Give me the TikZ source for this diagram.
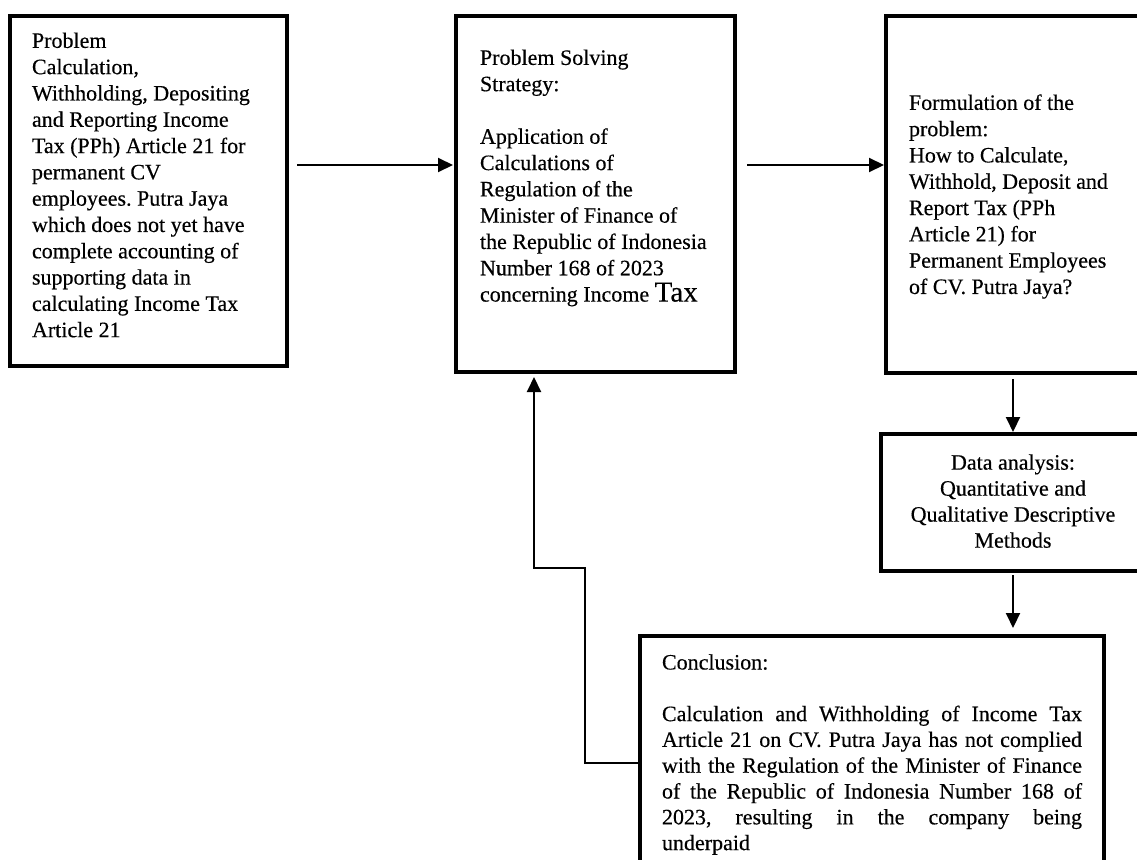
\documentclass[tikz,border=0pt]{standalone}
\usepackage{fontspec}
\setmainfont{Liberation Serif}[FakeBold=0.35]
\usetikzlibrary{arrows.meta}
\frenchspacing
\begin{document}
\begin{tikzpicture}[x=1pt,y=-1pt,
  box/.style={draw, line width=4.5pt, inner sep=0pt, outer sep=0pt, anchor=north west,
    font=\fontsize{22}{26.3}\selectfont},
  arr/.style={line width=2pt, -{Triangle[length=15pt,width=14pt]}},
  ]
\useasboundingbox (0,0) rectangle (1137,859);
\clip (0,0) rectangle (1137,859);
\fill[white] (0,0) rectangle (1137,859);

% Box 1: Problem
\node[box, inner xsep=22pt, inner ysep=13.45pt] (b1) at (10,16)
 {\parbox[c][323.1pt][t]{233pt}{\raggedright\frenchspacing\strut Problem\\
 Calculation,\\
 Withholding, Depositing\\
 and Reporting Income\\
 Tax (PPh) Article 21 for\\
 permanent CV\\
 employees. Putra Jaya\\
 which does not yet have\\
 complete accounting of\\
 supporting data in\\
 calculating Income Tax\\
 Article 21}};

% Box 2: Strategy
\node[box, inner xsep=24pt, inner ysep=30.45pt] (b2) at (456,16)
 {\parbox[c][295.1pt][t]{231pt}{\raggedright\frenchspacing\strut Problem Solving\\
 Strategy:\\
 \mbox{}\\
 Application of\\
 Calculations of\\
 Regulation of the\\
 Minister of Finance of\\
 the Republic of Indonesia\\
 Number 168 of 2023\\
 concerning Income {\fontsize{29}{28}\selectfont Tax}}};

% Box 3: Formulation
\node[box, inner xsep=23pt, inner ysep=75.45pt] (b3) at (886,16)
 {\parbox[c][206.1pt][t]{213pt}{\raggedright\frenchspacing\strut Formulation of the\\
 problem:\\
 How to Calculate,\\
 Withhold, Deposit and\\
 Report Tax (PPh\\
 Article 21) for\\
 Permanent Employees\\
 of CV. Putra Jaya?}};

% Box 4: Data analysis
\node[box, inner xsep=20pt, inner ysep=17.45pt, font=\fontsize{22}{26}\selectfont] (b4) at (881,434)
 {\parbox[c][102.1pt][t]{224pt}{\centering\strut Data analysis:\\
 Quantitative and\\
 Qualitative Descriptive\\
 Methods}};

% Box 5: Conclusion
\node[box, inner xsep=22pt, inner ysep=15.45pt, font=\fontsize{22}{25.8}\selectfont] (b5) at (640,636)
 {\parbox[c][233pt][t]{420pt}{\frenchspacing\strut Conclusion:\\
 \mbox{}\\
 \makebox[\linewidth][s]{Calculation and Withholding of Income Tax}\\
 \makebox[\linewidth][s]{Article 21 on CV. Putra Jaya has not complied}\\
 \makebox[\linewidth][s]{with the Regulation of the Minister of Finance}\\
 \makebox[\linewidth][s]{of the Republic of Indonesia Number 168 of}\\
 \makebox[\linewidth][s]{2023, resulting in the company being}\\
 underpaid}};

% helper coordinates
\coordinate (ya) at (0,165);
\coordinate (xa) at (1013,0);
\coordinate (fa) at (585,763);
\coordinate (fb) at (534,568);

% connectors
\draw[arr, shorten <=10pt, shorten >=3pt] (b1.east |- ya) -- (b2.west |- ya);
\draw[arr, shorten <=12pt, shorten >=2pt] (b2.east |- ya) -- (b3.west |- ya);
\draw[arr, shorten <=6pt, shorten >=2pt] (b3.south -| xa) -- (b4.north -| xa);
\draw[arr, shorten <=4pt, shorten >=8pt] (b4.south -| xa) -- (b5.north -| xa);
\draw[arr, shorten >=5pt] (b5.west |- fa) -- (fa) |- (fb) -- (b2.south -| fb);
\end{tikzpicture}
\end{document}
